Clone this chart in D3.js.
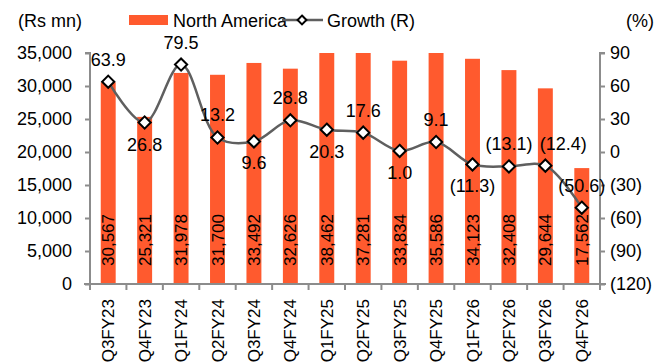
<!DOCTYPE html>
<html>
<head>
<meta charset="utf-8">
<script src="https://cdn.jsdelivr.net/npm/d3@7"></script>
<style>
  body { margin: 0; background: #fff; }
  svg text { font-family: "Liberation Sans Narrow", "Arial Narrow", "Liberation Sans", sans-serif; fill: #000; }
</style>
</head>
<body>
<svg id="canvas" width="671" height="363"></svg>
<script>
let quarters = ['Q3FY23', 'Q4FY23', 'Q1FY24', 'Q2FY24', 'Q3FY24', 'Q4FY24', 'Q1FY25', 'Q2FY25', 'Q3FY25', 'Q4FY25', 'Q1FY26', 'Q2FY26', 'Q3FY26', 'Q4FY26']
let northAmerica = [30567, 25321, 31978, 31700, 33492, 32626, 38462, 37281, 33834, 35586, 34123, 32408, 29644, 17562]
let growth = [63.9, 26.8, 79.5, 13.2, 9.6, 28.8, 20.3, 17.6, 1.0, 9.1, -11.3, -13.1, -12.4, -50.6]
// where each growth label sits: a = above, b = below, r = above and nudged right
let labelSide = ['a', 'b', 'a', 'a', 'b', 'a', 'b', 'a', 'b', 'a', 'b', 'a', 'r', 'a']
let leftTicks = [0, 5000, 10000, 15000, 20000, 25000, 30000, 35000]
let rightTicks = [-120, -90, -60, -30, 0, 30, 60, 90]

let canvas = d3.select('#canvas')
let plotL = 90, plotR = 600, plotT = 53, plotB = 284
let orange = '#FF5A2E'
let gray = '#8c8c8c'

let x = d3.scaleBand().domain(quarters).range([plotL, plotR]).paddingInner(0.59).paddingOuter(0.295)
let yL = d3.scaleLinear().domain([0, 35000]).range([plotB, plotT])
let yR = d3.scaleLinear().domain([-120, 90]).range([plotB, plotT])

let fmt = d3.format(',')
let pct = (v) => v < 0 ? '(' + Math.abs(v).toFixed(1) + ')' : v.toFixed(1)

// bars
canvas.selectAll('rect.bar')
    .data(northAmerica)
    .enter()
    .append('rect')
    .attr('class', 'bar')
    .attr('x', (d, i) => x(quarters[i]))
    .attr('width', x.bandwidth())
    .attr('y', d => yL(Math.min(d, 35000)))
    .attr('height', d => yL(0) - yL(Math.min(d, 35000)))
    .attr('fill', orange)

// bar value labels
canvas.selectAll('text.barlab')
    .data(northAmerica)
    .enter()
    .append('text')
    .attr('class', 'barlab')
    .attr('transform', (d, i) => `translate(${x(quarters[i]) + x.bandwidth() / 2 + 6},${plotB - 18}) rotate(-90)`)
    .style('font-size', '17px')
    .text(d => fmt(d))

// axes
let axL = canvas.append('g').attr('transform', `translate(${plotL},0)`)
    .call(d3.axisLeft(yL).tickValues(leftTicks).tickFormat(fmt).tickSize(5).tickPadding(13))
let axR = canvas.append('g').attr('transform', `translate(${plotR},0)`)
    .call(d3.axisRight(yR).tickValues(rightTicks).tickFormat(v => v < 0 ? '(' + Math.abs(v) + ')' : v).tickSize(5).tickPadding(5))
let bandEdges = quarters.map(q => x(q) - x.step() * x.paddingInner() / 2).concat([plotR])
let axX = canvas.append('g').attr('transform', `translate(0,${plotB})`)
axX.append('line').attr('x1', plotL - 6).attr('x2', plotR + 6).attr('y1', 0).attr('y2', 0)
axX.selectAll('line.tick')
    .data(bandEdges)
    .enter()
    .append('line')
    .attr('x1', d => d).attr('x2', d => d).attr('y1', 0).attr('y2', 6)
axX.selectAll('line').attr('stroke', gray).attr('stroke-width', 2)

;[axL, axR].forEach(a => {
    a.select('.domain').attr('stroke', gray).attr('stroke-width', 2).attr('d', a === axL
        ? `M-5,${plotT}H0V${plotB}` : `M5,${plotT}H0V${plotB}`)
    a.selectAll('.tick line').attr('stroke', gray).attr('stroke-width', 2)
    a.selectAll('.tick text').style('font-size', '18px').attr('fill', '#000')
})

// x labels
canvas.selectAll('text.xlab')
    .data(quarters)
    .enter()
    .append('text')
    .attr('class', 'xlab')
    .attr('transform', d => `translate(${x(d) + x.bandwidth() / 2 + 6},${plotB + 15}) rotate(-90)`)
    .attr('text-anchor', 'end')
    .style('font-size', '17px')
    .text(d => d)

// growth line
let cx = (i) => x(quarters[i]) + x.bandwidth() / 2
let line = d3.line()
    .x((d, i) => cx(i))
    .y(d => yR(d))
    .curve(d3.curveCatmullRom.alpha(0.5))
canvas.append('path')
    .datum(growth)
    .attr('d', line)
    .attr('fill', 'none')
    .attr('stroke', '#5f5f5f')
    .attr('stroke-width', 2.5)

let diamond = d3.symbol().type(d3.symbolDiamond2).size(95)
canvas.selectAll('path.mark')
    .data(growth)
    .enter()
    .append('path')
    .attr('class', 'mark')
    .attr('d', diamond)
    .attr('transform', (d, i) => `translate(${cx(i)},${yR(d)})`)
    .attr('fill', '#fff')
    .attr('stroke', '#000')
    .attr('stroke-width', 2)

canvas.selectAll('text.glab')
    .data(growth)
    .enter()
    .append('text')
    .attr('class', 'glab')
    .attr('x', (d, i) => cx(i) + (labelSide[i] === 'r' ? 18 : 0))
    .attr('y', (d, i) => yR(d) + (labelSide[i] === 'b' ? 28 : -16))
    .attr('text-anchor', 'middle')
    .style('font-size', '18px')
    .text(d => pct(d))

// titles
canvas.append('text').attr('x', 18).attr('y', 27).style('font-size', '18px').text('(Rs mn)')
canvas.append('text').attr('x', 626).attr('y', 27).style('font-size', '18px').text('(%)')

// legend
canvas.append('rect').attr('x', 129).attr('y', 15).attr('width', 39).attr('height', 10).attr('fill', orange)
canvas.append('text').attr('x', 173).attr('y', 27).style('font-size', '18px').text('North America')
canvas.append('line').attr('x1', 282).attr('x2', 323).attr('y1', 20).attr('y2', 20).attr('stroke', '#5f5f5f').attr('stroke-width', 2.5)
canvas.append('path').attr('d', d3.symbol().type(d3.symbolDiamond2).size(50)).attr('transform', 'translate(302,20)')
    .attr('fill', '#fff').attr('stroke', '#000').attr('stroke-width', 2)
canvas.append('text').attr('x', 327).attr('y', 27).style('font-size', '18px').text('Growth (R)')
</script>
</body>
</html>
